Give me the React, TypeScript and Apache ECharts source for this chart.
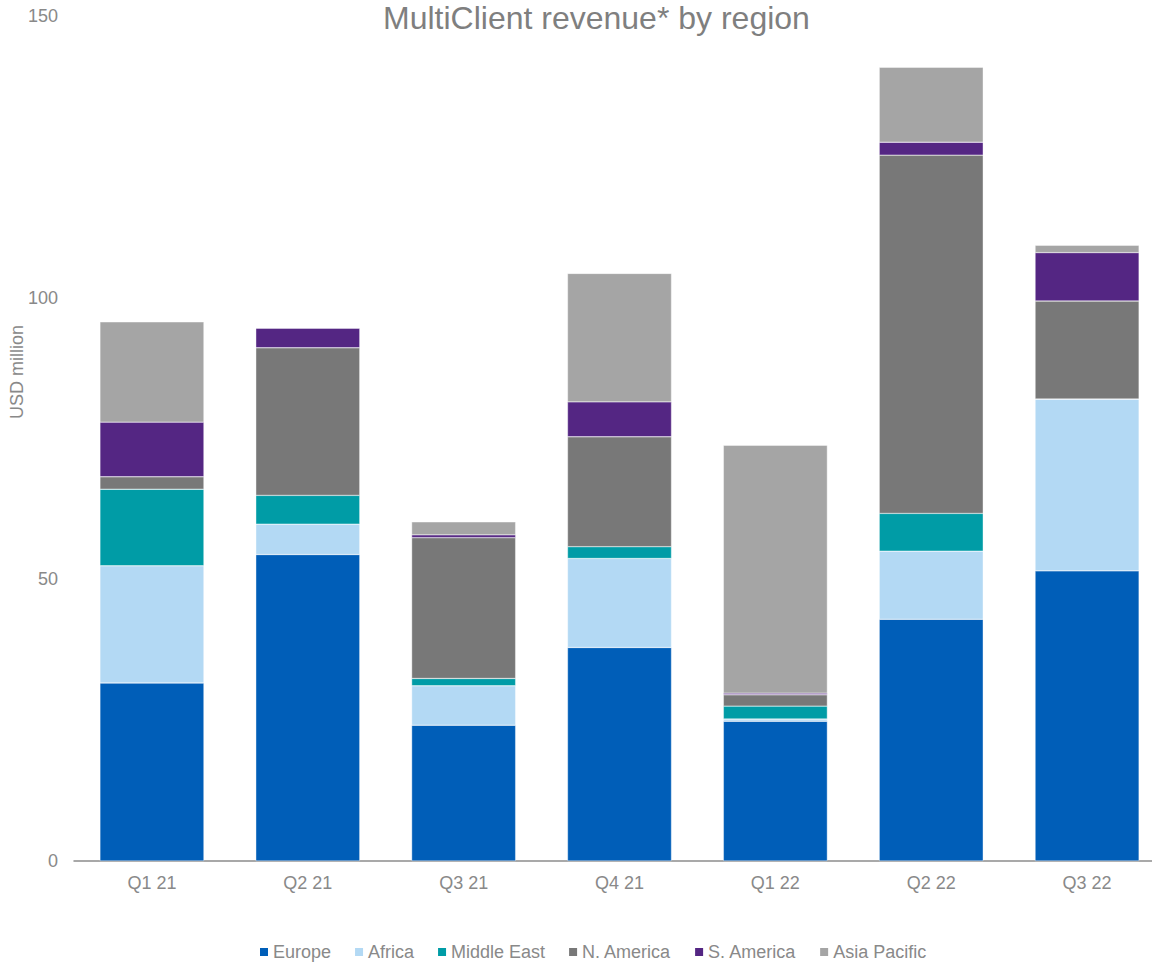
import React, { useEffect, useRef } from "react";
import * as echarts from "echarts";

const categories = ["Q1 21", "Q2 21", "Q3 21", "Q4 21", "Q1 22", "Q2 22", "Q3 22"];
const europe = [31.6, 54.4, 24.1, 37.9, 24.8, 42.9, 51.5];
const africa = [20.8, 5.4, 7.0, 15.8, 0.4, 12.1, 30.5];
const middleEast = [13.6, 5.1, 1.3, 2.1, 2.3, 6.7, 0];
const nAmerica = [2.2, 26.2, 25.0, 19.5, 2.0, 63.6, 17.4];
const sAmerica = [9.7, 3.5, 0.5, 6.2, 0.3, 2.3, 8.6];
const asiaPacific = [17.8, 0, 2.3, 22.8, 44.0, 13.3, 1.3];
const yTicks = { min: 0, max: 150, interval: 50 };

const seriesDefs = [
  { name: "Europe", data: europe, color: "#005EB8" },
  { name: "Africa", data: africa, color: "#B3D9F4" },
  { name: "Middle East", data: middleEast, color: "#009CA6" },
  { name: "N. America", data: nAmerica, color: "#787878" },
  { name: "S. America", data: sAmerica, color: "#542683" },
  { name: "Asia Pacific", data: asiaPacific, color: "#A5A5A5" },
];

const textColor = "#898989";
const font = "'Liberation Sans', Arial, sans-serif";

export default function App() {
  const ref = useRef<HTMLDivElement>(null);
  useEffect(() => {
    if (!ref.current) return;
    const chart = echarts.init(ref.current, null, { renderer: "svg" });
    chart.setOption({
      animation: false,
      backgroundColor: "#ffffff",
      textStyle: { fontFamily: font },
      title: {
        text: "MultiClient revenue* by region",
        left: 383,
        top: 2,
        padding: 0,
        textStyle: { fontSize: 32, fontWeight: "normal", color: "#7f7f7f", fontFamily: font },
      },
      legend: {
        data: seriesDefs.map((s) => s.name),
        left: 258,
        top: 943,
        padding: 0,
        icon: "rect",
        itemWidth: 10,
        itemHeight: 10,
        itemGap: 22,
        textStyle: { fontSize: 18, color: textColor, fontFamily: font, padding: [0, 0, 0, -1] },
      },
      grid: { left: 74, top: 16, width: 1091, bottom: 102, containLabel: false },
      xAxis: {
        type: "category",
        data: categories,
        axisLine: { show: true, lineStyle: { color: "#8c8c8c", width: 1.5 } },
        axisTick: { show: false },
        axisLabel: { fontSize: 18, color: textColor, margin: 13, fontFamily: font },
      },
      yAxis: {
        type: "value",
        min: yTicks.min,
        max: yTicks.max,
        interval: yTicks.interval,
        splitLine: { show: false },
        axisLine: { show: false },
        axisTick: { show: false },
        axisLabel: { fontSize: 18, color: textColor, margin: 16, fontFamily: font },
      },
      graphic: [
        {
          type: "text",
          x: 17,
          y: 372,
          rotation: Math.PI / 2,
          style: {
            text: "USD million",
            fontSize: 18,
            fill: textColor,
            fontFamily: font,
            align: "center",
            verticalAlign: "middle",
          },
        },
      ],
      series: seriesDefs.map((s) => ({
        name: s.name,
        type: "bar",
        stack: "total",
        barWidth: 104,
        data: s.data,
        itemStyle: { color: s.color, borderColor: "#ffffff", borderWidth: 0.4 },
      })),
    });
    return () => chart.dispose();
  }, []);
  return (
    <div
      style={{
        position: "absolute",
        left: 0,
        top: 0,
        width: 1152,
        height: 963,
        overflow: "hidden",
      }}
    >
      <div ref={ref} style={{ width: 1180, height: 963 }} />
    </div>
  );
}
